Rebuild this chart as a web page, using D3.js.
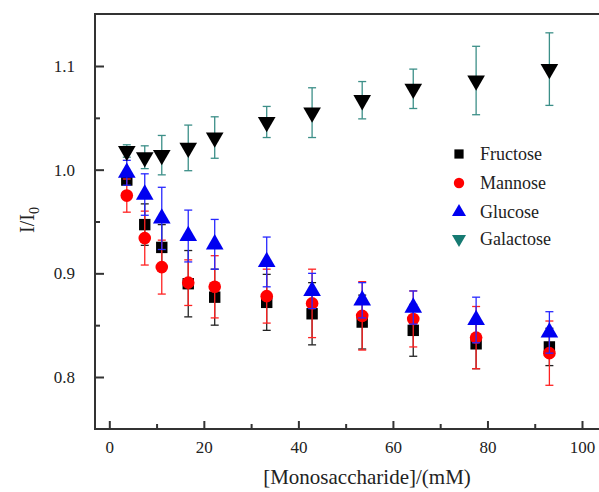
<!DOCTYPE html>
<html>
<head>
<meta charset="utf-8">
<script src="https://cdn.jsdelivr.net/npm/d3@7"></script>
<style>
  body { margin: 0; background: #fff; }
  svg { display: block; }
  svg text { font-family: "Liberation Serif", "Times New Roman", serif !important; fill: #222; }
</style>
</head>
<body>
<svg id="chart" width="599" height="492"></svg>
<script>
// concentrations (mM)
const conc = [ 3.7, 7.5, 11.1, 16.7, 22.3, 33.3, 42.9, 53.5, 64.3, 77.6, 93.1 ];

const fructose    = [ 0.990, 0.947, 0.925, 0.890, 0.877, 0.872, 0.861, 0.853, 0.845, 0.832, 0.829 ];
const fructoseErr = [ 0.005, 0.020, 0.022, 0.032, 0.027, 0.027, 0.030, 0.026, 0.025, 0.024, 0.018 ];

const mannose    = [ 0.975, 0.934, 0.906, 0.891, 0.887, 0.878, 0.871, 0.859, 0.856, 0.838, 0.823 ];
const mannoseErr = [ 0.016, 0.026, 0.026, 0.022, 0.030, 0.026, 0.033, 0.033, 0.027, 0.030, 0.031 ];

const glucose    = [ 0.997, 0.976, 0.953, 0.936, 0.928, 0.911, 0.883, 0.874, 0.867, 0.855, 0.843 ];
const glucoseErr = [ 0.012, 0.020, 0.030, 0.025, 0.024, 0.024, 0.017, 0.017, 0.016, 0.022, 0.020 ];

const galactose    = [ 1.018, 1.012, 1.014, 1.021, 1.031, 1.046, 1.055, 1.067, 1.078, 1.086, 1.097 ];
const galactoseErr = [ 0.006, 0.011, 0.019, 0.022, 0.020, 0.015, 0.024, 0.018, 0.019, 0.033, 0.035 ];

const xTicks = [ 0, 20, 40, 60, 80, 100 ];
const xMinor = [ 10, 30, 50, 70, 90 ];
const yTicks = [ 0.8, 0.9, 1.0, 1.1 ];
const yMinor = [ 0.85, 0.95, 1.05 ];

const series = [
  { name: "Fructose",  y: fructose,  err: fructoseErr,  shape: "square", fill: "#000",    bar: "#222",    legend: "#000" },
  { name: "Mannose",   y: mannose,   err: mannoseErr,   shape: "circle", fill: "#f00",    bar: "#f22",    legend: "#f00" },
  { name: "Glucose",   y: glucose,   err: glucoseErr,   shape: "up",     fill: "#0000f0", bar: "#2828ff", legend: "#0000f0" },
  { name: "Galactose", y: galactose, err: galactoseErr, shape: "down",   fill: "#000",    bar: "#3c8f88", legend: "#167a72" },
];

const svg = d3.select( "#chart" );
const FRAME = { left: 95, top: 14, right: 640, bottom: 429 };

const x = d3.scaleLinear().domain( [ 0, 100 ] ).range( [ 109.3, 582 ] );
const y = d3.scaleLinear().domain( [ 0.8, 1.1 ] ).range( [ 377, 66 ] );

// frame
svg.append( "rect" )
  .attr( "x", FRAME.left ).attr( "y", FRAME.top )
  .attr( "width", FRAME.right - FRAME.left ).attr( "height", FRAME.bottom - FRAME.top )
  .attr( "fill", "none" ).attr( "stroke", "#333" ).attr( "stroke-width", 2 );

// axes
svg.append( "g" )
  .attr( "transform", `translate(0,${FRAME.bottom})` )
  .call( d3.axisBottom( x ).tickValues( xTicks ).tickFormat( d3.format( "d" ) ).tickSizeInner( -8 ).tickSizeOuter( 0 ).tickPadding( 12 ) );
svg.append( "g" )
  .attr( "transform", `translate(0,${FRAME.bottom})` )
  .call( d3.axisBottom( x ).tickValues( xMinor ).tickFormat( "" ).tickSizeInner( -5 ).tickSizeOuter( 0 ) );

svg.append( "g" )
  .attr( "transform", `translate(${FRAME.left},0)` )
  .call( d3.axisLeft( y ).tickValues( yTicks ).tickFormat( d3.format( ".1f" ) ).tickSizeInner( -9 ).tickSizeOuter( 0 ).tickPadding( 20 ) );
svg.append( "g" )
  .attr( "transform", `translate(${FRAME.left},0)` )
  .call( d3.axisLeft( y ).tickValues( yMinor ).tickFormat( "" ).tickSizeInner( -5 ).tickSizeOuter( 0 ) );

svg.selectAll( ".domain" ).remove();
svg.selectAll( "g" ).attr( "font-family", null );
svg.selectAll( ".tick line" ).attr( "stroke", "#333" ).attr( "stroke-width", 2 );
svg.selectAll( ".tick text" ).style( "font-size", "17px" ).attr( "fill", "#222" );

// axis titles
svg.append( "text" )
  .attr( "x", 367 ).attr( "y", 484 )
  .attr( "text-anchor", "middle" )
  .style( "font-size", "21px" )
  .text( "[Monosaccharide]/(mM)" );

const yt = svg.append( "text" )
  .attr( "transform", "translate(34,220) rotate(-90)" )
  .attr( "text-anchor", "middle" )
  .style( "font-size", "20px" );
yt.append( "tspan" ).text( "I/I" );
yt.append( "tspan" ).attr( "dy", 5 ).style( "font-size", "14px" ).text( "0" );

// markers
const symbolType = shape => shape === "square" ? d3.symbolSquare : shape === "circle" ? d3.symbolCircle : d3.symbolTriangle;
const symbolSize = { square: 130, circle: 125, up: 135, down: 135 };

series.forEach( s => {
  const g = svg.append( "g" );
  const pts = conc.map( ( c, i ) => ( { x: c, y: s.y[i], e: s.err[i] } ) );
  const cap = 4;

  const bars = g.selectAll( ".bar" ).data( pts ).enter().append( "g" )
    .attr( "stroke", s.bar ).attr( "stroke-width", 1.3 ).attr( "fill", "none" );
  bars.append( "line" )
    .attr( "x1", d => x( d.x ) ).attr( "x2", d => x( d.x ) )
    .attr( "y1", d => y( d.y - d.e ) ).attr( "y2", d => y( d.y + d.e ) );
  bars.append( "line" )
    .attr( "x1", d => x( d.x ) - cap ).attr( "x2", d => x( d.x ) + cap )
    .attr( "y1", d => y( d.y + d.e ) ).attr( "y2", d => y( d.y + d.e ) );
  bars.append( "line" )
    .attr( "x1", d => x( d.x ) - cap ).attr( "x2", d => x( d.x ) + cap )
    .attr( "y1", d => y( d.y - d.e ) ).attr( "y2", d => y( d.y - d.e ) );

  g.selectAll( ".pt" ).data( pts ).enter().append( "path" )
    .attr( "d", d3.symbol( symbolType( s.shape ), symbolSize[s.shape] )() )
    .attr( "transform", d => `translate(${x( d.x )},${y( d.y )})${s.shape === "down" ? " rotate(180)" : ""}` )
    .attr( "fill", s.fill );
} );

// legend
const legend = svg.append( "g" );
series.forEach( ( s, i ) => {
  const ly = [ 154, 183, 212, 239 ][i];
  legend.append( "path" )
    .attr( "d", d3.symbol( symbolType( s.shape ), 85 )() )
    .attr( "transform", `translate(459,${ly})${s.shape === "down" ? " rotate(180)" : ""}` )
    .attr( "fill", s.legend );
  legend.append( "text" )
    .attr( "x", 480 ).attr( "y", ly + 6 )
    .style( "font-size", "18px" )
    .text( s.name );
} );
</script>
</body>
</html>
